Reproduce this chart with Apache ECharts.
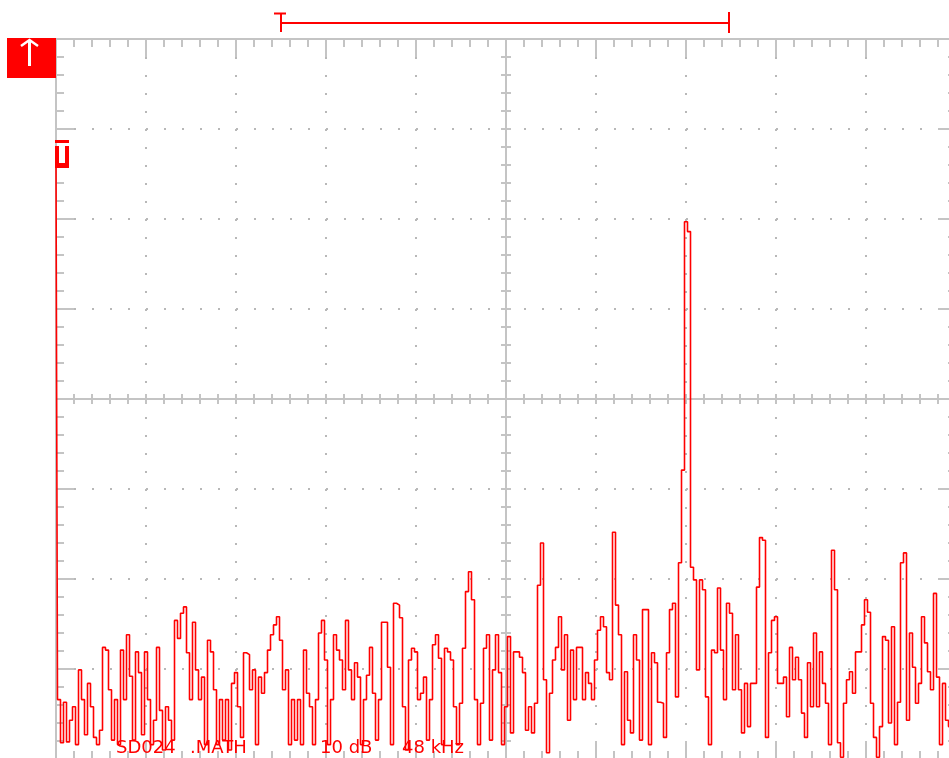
<!DOCTYPE html>
<html>
<head>
<meta charset="utf-8">
<title>FFT</title>
<script src="https://cdn.jsdelivr.net/npm/echarts@6/dist/echarts.min.js"></script>
<style>
    html, body { margin: 0; padding: 0; background: #fff; }
    #chart { width: 949px; height: 758px; }
</style>
</head>
<body>
<div id="chart"></div>
<script>
// spectrum bins, 1.6 kHz apart, dB
const BIN_KHZ = 1.6;
const spectrum1 = [-13.4, -73.4, -78.2, -73.7, -78.1, -75.7, -74.2, -78.4, -70.1, -73.4, -77.3, -71.6, -74.2, -77.6, -78.4, -76.8, -67.6, -67.9, -72.3, -77.9,
    -73.4, -78.4, -67.9, -73.4, -66.2, -70.8, -77.9, -68.1, -70.4, -77.3, -68.1, -73.4, -78.4, -75.7, -67.6, -74.6, -79.0, -74.2, -75.7, -77.9,
    -64.6, -66.6, -63.8, -63.1, -68.2, -73.4, -64.8, -70.1, -73.4, -70.9, -78.4, -66.8];
const spectrum2 = [-68.1, -72.3, -78.4, -73.4, -77.9, -73.4, -79.0, -71.6, -70.4, -74.2, -77.6, -68.2, -68.4, -72.3, -70.1, -78.4, -70.9, -72.7, -70.4, -67.9,
    -66.2, -65.1, -64.2, -66.8, -72.3, -70.1, -78.4, -73.4, -77.9, -73.4, -78.4, -67.9, -72.7, -74.2, -78.4, -73.4, -66.0, -64.6, -69.0, -78.4,
    -73.4, -66.2, -67.9, -69.0, -72.3, -64.6, -70.1, -73.4, -69.3, -70.9];
const spectrum3 = [-78.4, -73.4, -70.7, -67.6, -72.7, -77.9, -73.4, -64.8, -64.8, -69.8, -78.4, -62.7, -62.9, -64.3, -74.2, -79.0, -69.0, -67.7, -68.1, -73.4,
    -72.7, -70.9, -77.9, -73.4, -67.3, -66.2, -68.8, -78.4, -67.7, -68.1, -69.0, -74.2, -78.4, -73.8, -67.7, -61.4, -59.2, -62.3, -73.4, -78.4,
    -73.8, -67.7, -66.2, -77.9, -70.1, -66.2, -70.4, -78.4, -74.2, -66.4];
const spectrum4 = [-77.1, -68.1, -68.1, -68.7, -70.4, -76.8, -74.2, -77.1, -73.8, -60.7, -56.0, -71.2, -79.3, -72.7, -69.0, -67.6, -64.2, -70.1, -66.2, -75.7,
    -67.9, -73.4, -67.6, -67.6, -73.4, -70.4, -71.6, -73.4, -69.0, -65.7, -64.2, -65.3, -70.4, -71.2, -54.8, -62.9, -66.2, -78.4, -70.3, -75.7,
    -77.1, -66.2, -69.0, -77.9, -63.4, -63.4, -78.4, -68.2, -69.3, -73.7];
const spectrum5 = [-73.8, -77.6, -68.2, -63.4, -62.7, -73.1, -58.2, -47.9, -20.3, -21.4, -58.7, -60.1, -70.1, -60.1, -61.2, -73.1, -78.4, -67.9, -68.2, -61.0,
    -67.9, -73.4, -62.7, -63.8, -72.3, -66.2, -72.3, -77.1, -71.6, -76.4, -71.6, -71.6, -60.9, -55.4, -55.7, -77.6, -68.2, -64.6, -64.2, -71.6,
    -71.6, -70.9, -75.3, -67.6, -71.2, -68.7, -71.2, -74.9, -77.6, -69.3];
const spectrum6 = [-74.2, -66.0, -74.2, -68.1, -71.6, -73.8, -78.4, -56.8, -61.2, -78.2, -79.8, -73.8, -71.2, -70.3, -72.7, -68.1, -68.1, -65.1, -62.3, -63.7,
    -73.8, -77.6, -79.8, -76.4, -66.4, -66.8, -76.0, -65.3, -78.4, -73.7, -58.2, -57.1, -75.7, -66.0, -69.8, -73.8, -71.6, -64.2, -67.1, -70.3,
    -72.3, -61.6, -70.9, -78.4, -71.6, -75.7, -76.4];

const spectrum = [].concat(spectrum1, spectrum2, spectrum3, spectrum4, spectrum5, spectrum6);

// screen: 10 div x 8 div
const freqMax = 480, freqDiv = 48;
const dbMin = -80, dbMax = 0, dbDiv = 10;
const statusWords = [
    {text: 'SD024', x: 116},
    {text: '.MATH', x: 190},
    {text: '10 dB', x: 320},
    {text: '48 kHz', x: 402}
];

const GRID = '#c4c4c4';
const RED = '#ff0000';

let chart = echarts.init(document.getElementById('chart'));

function borderAxis(extra) {
    return Object.assign({
        type: 'value',
        axisLine: {show: true, onZero: false, lineStyle: {color: GRID, width: 2}},
        axisTick: {show: true, inside: true, length: 18, lineStyle: {color: GRID, width: 2}},
        minorTick: {show: true, splitNumber: 5, length: 8, lineStyle: {color: GRID, width: 2}},
        axisLabel: {show: false},
        splitLine: {show: false}
    }, extra);
}

function centerAxis(extra) {
    return Object.assign({
        type: 'value',
        axisLine: {show: true, onZero: false, lineStyle: {color: GRID, width: 2}},
        axisTick: {show: true, length: 5, lineStyle: {color: GRID, width: 2}},
        axisLabel: {show: false},
        splitLine: {show: false}
    }, extra);
}

let dotted = {show: true, lineStyle: {color: '#b8b8b8', width: 2, type: [2, 16]}};

let option = {
    animation: false,
    grid: {left: 56, top: 39, width: 900, height: 720, outerBoundsMode: 'none', containLabel: false},
    xAxis: [
        borderAxis({position: 'bottom', min: 0, max: freqMax, interval: freqDiv, splitLine: dotted}),
        borderAxis({position: 'top', min: 0, max: freqMax, interval: freqDiv}),
        centerAxis({position: 'bottom', offset: -360, min: 0, max: freqMax, interval: freqDiv / 5, axisTick: {show: true, inside: true, length: 5, lineStyle: {color: GRID, width: 2}}}),
        centerAxis({position: 'bottom', offset: -360, min: 0, max: freqMax, interval: freqDiv / 5, axisTick: {show: true, inside: false, length: 5, lineStyle: {color: GRID, width: 2}}})
    ],
    yAxis: [
        borderAxis({position: 'left', min: dbMin, max: dbMax, interval: dbDiv, splitLine: dotted}),
        borderAxis({position: 'right', min: dbMin, max: dbMax, interval: dbDiv}),
        centerAxis({position: 'left', offset: -450, min: dbMin, max: dbMax, interval: dbDiv / 5, axisTick: {show: true, inside: true, length: 5, lineStyle: {color: GRID, width: 2}}}),
        centerAxis({position: 'left', offset: -450, min: dbMin, max: dbMax, interval: dbDiv / 5, axisTick: {show: true, inside: false, length: 5, lineStyle: {color: GRID, width: 2}}})
    ],
    series: [{
        name: 'MATH',
        type: 'line',
        xAxisIndex: 0,
        yAxisIndex: 0,
        step: 'middle',
        symbol: 'none',
        lineStyle: {color: RED, width: 1.6},
        data: spectrum.map((v, i) => [i * BIN_KHZ, v]),
        z: 5
    }],
    graphic: [
        // channel marker top left
        {type: 'rect', shape: {x: 7, y: 38, width: 49, height: 40}, style: {fill: RED}, z: 10},
        {type: 'polyline', shape: {points: [[29.5, 66], [29.5, 41]]}, style: {stroke: '#fff', lineWidth: 3}, z: 11},
        {type: 'polyline', shape: {points: [[21, 46], [29.5, 40], [38, 46]]}, style: {stroke: '#fff', lineWidth: 2.5, fill: null}, z: 11},
        // cursor bar at the top
        {type: 'polyline', shape: {points: [[281, 23], [729, 23]]}, style: {stroke: RED, lineWidth: 2}, z: 10},
        {type: 'polyline', shape: {points: [[274, 13.5], [286, 13.5]]}, style: {stroke: RED, lineWidth: 2}, z: 10},
        {type: 'polyline', shape: {points: [[281, 13], [281, 32]]}, style: {stroke: RED, lineWidth: 2}, z: 10},
        {type: 'polyline', shape: {points: [[729, 12], [729, 33]]}, style: {stroke: RED, lineWidth: 2}, z: 10},
        // reference level marker
        {type: 'rect', shape: {x: 55, y: 140, width: 14, height: 3}, style: {fill: RED}, z: 10},
        {type: 'rect', shape: {x: 55, y: 146, width: 14, height: 22}, style: {fill: RED}, z: 10},
        {type: 'rect', shape: {x: 59, y: 146, width: 6, height: 17}, style: {fill: '#fff'}, z: 11}
    ].concat(statusWords.map(w => ({
        type: 'text', x: w.x, y: 748, z: 1,
        style: {text: w.text, fill: RED, font: '18px "DejaVu Sans"', verticalAlign: 'middle'}
    })))
};

chart.setOption(option);
</script>
</body>
</html>
